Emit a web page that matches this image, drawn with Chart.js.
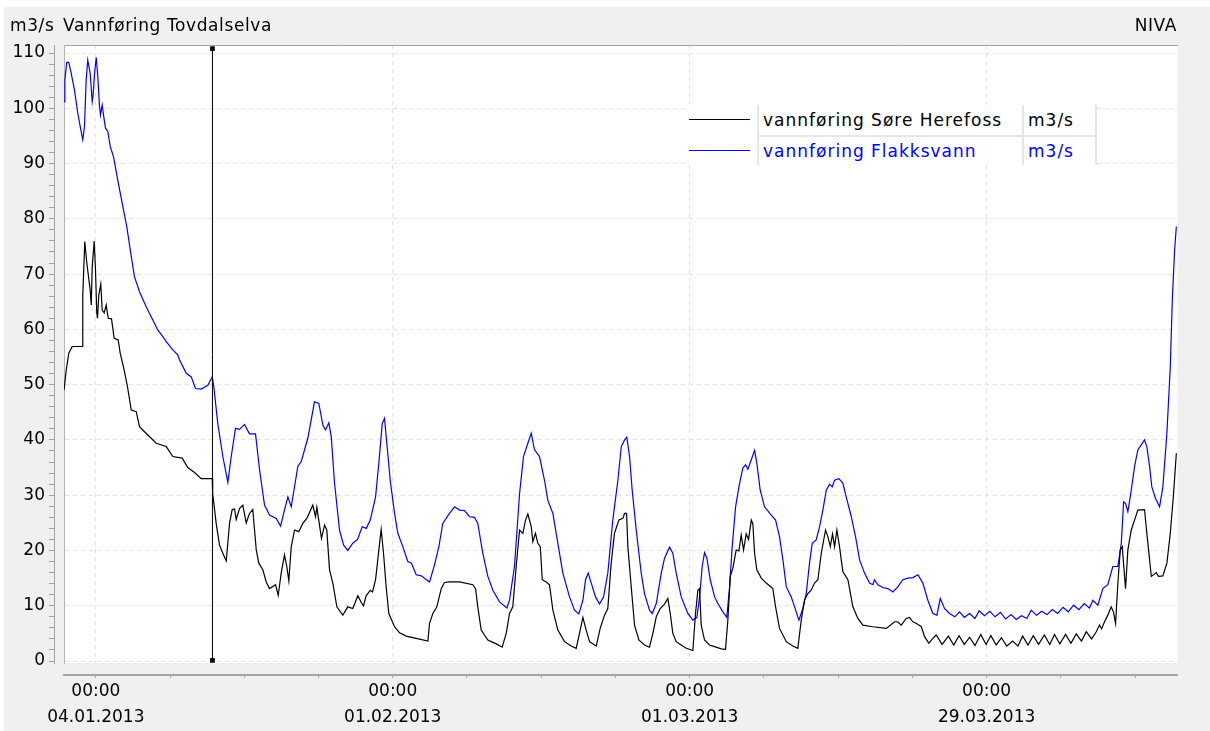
<!DOCTYPE html>
<html lang="no">
<head>
<meta charset="utf-8">
<title>Vannføring Tovdalselva</title>
<script src="https://cdn.jsdelivr.net/npm/chart.js@4/dist/chart.umd.min.js"></script>
<style>
  html, body { margin: 0; padding: 0; background: #ffffff; }
  #frame { position: relative; width: 1210px; height: 731px; overflow: hidden; }
  #panel { position: absolute; left: 4px; top: 7px; width: 1206px; height: 724px; background: #f0f0f0; }
  #chart { position: absolute; left: 0; top: 0; }
  .txt { position: absolute; font-family: "DejaVu Sans", sans-serif; font-size: 17px; line-height: 20px; white-space: nowrap; color: #000; }
  .head { letter-spacing: 0.6px; top: 15px; }
  #legend { position: absolute; left: 689px; top: 105px; width: 408px; height: 60px; background: #ffffff; }
  #legend .swatch { position: absolute; left: 0; width: 61px; height: 1px; }
  #legend .vsep { position: absolute; top: 0; width: 2px; height: 60px; background: #e6e6e6; }
  #legend .hsep { position: absolute; left: 68px; top: 30px; width: 340px; height: 2px; background: #e6e6e6; }
  #legend .txt { letter-spacing: 1px; }
</style>
</head>
<body>
<div id="frame">
  <div id="panel"></div>
  <canvas id="chart" width="1210" height="731"></canvas>
  <div class="txt head" style="left:10px">m3/s</div>
  <div class="txt head" style="left:63px">Vannføring Tovdalselva</div>
  <div class="txt head" style="right:33px">NIVA</div>
  <div id="legend"></div>
</div>
<script>
// Time axis: days since 01.01.2013 00:00
const START_UTC = Date.UTC(2013, 0, 1);
const DAY_MIN = 0;
const DAY_MAX = 105;

// Labelled date ticks (every 4 weeks) and weekly minor ticks
const majorTickDays = [3, 31, 59, 87];
const minorTickDays = [3, 10, 17, 24, 31, 38, 45, 52, 59, 66, 73, 80, 87, 94, 101];

// Value axis (m3/s)
const Y_MIN = -0.36;
const Y_MAX = 111.45;
const yGridValues = [0, 10, 20, 30, 40, 50, 60, 70, 80, 90, 100, 110];
const yMinorTicks = [];
for (let v = 0; v <= 110; v += 2) yMinorTicks.push(v);

// Series metadata
const seriesNames = ['vannføring Søre Herefoss', 'vannføring Flakksvann'];
const seriesUnits = ['m3/s', 'm3/s'];
const seriesColors = ['#000000', '#0000ff'];

// Cursor marker
const cursorDay = 14.0;
const cursorSpan = [0.1, 110.8];

// vannføring Søre Herefoss: [day, m3/s]
const soreHerefoss = [
  [0.00,49.0],[0.21,52.6],[0.45,55.7],[0.77,56.9],[1.72,56.9],[1.77,66.2],[1.96,75.9],[2.15,72.0],[2.47,67.1],[2.57,64.4],
  [2.66,71.3],[2.85,76.0],[2.97,70.7],[3.09,63.0],[3.16,62.0],[3.28,66.2],[3.47,68.2],[3.60,63.5],[3.79,63.0],[3.98,64.4],
  [4.17,62.0],[4.48,61.9],[4.73,58.4],[5.11,58.1],[5.30,55.7],[5.68,52.6],[5.99,49.6],[6.34,45.4],[6.81,45.1],[7.12,42.4],
  [7.69,41.3],[8.22,40.3],[8.69,39.4],[9.64,38.8],[10.26,37.0],[11.15,36.7],[11.67,35.0],[12.31,34.1],[12.94,33.0],[13.98,33.0],
  [14.02,30.3],[14.35,24.9],[14.66,21.0],[14.98,19.5],[15.30,18.1],[15.61,24.9],[15.86,27.4],[16.08,27.5],[16.24,25.6],[16.55,27.6],
  [16.86,28.2],[17.18,25.0],[17.49,26.7],[17.80,27.4],[18.13,20.1],[18.37,17.7],[18.75,16.5],[19.07,14.3],[19.38,13.1],[19.95,13.8],
  [20.20,11.9],[20.48,15.9],[20.79,19.2],[21.01,17.1],[21.20,14.5],[21.43,20.7],[21.74,23.7],[22.14,23.4],[22.52,24.9],[22.90,25.8],
  [23.46,28.2],[23.72,26.1],[23.84,27.8],[24.28,22.2],[24.57,24.6],[24.78,23.7],[25.04,16.5],[25.35,14.1],[25.73,9.8],[26.29,8.3],
  [26.76,9.8],[27.23,9.5],[27.71,11.8],[28.06,10.5],[28.24,10.0],[28.49,11.8],[28.88,12.8],[29.09,12.5],[29.38,14.7],[29.69,20.1],
  [29.91,23.8],[30.13,19.5],[30.38,13.4],[30.63,8.6],[31.17,6.2],[31.64,5.1],[32.27,4.5],[33.21,4.1],[34.31,3.6],[34.47,6.8],
  [34.78,8.6],[35.16,9.8],[35.57,13.1],[35.88,14.2],[36.35,14.3],[37.30,14.3],[38.55,13.8],[38.81,13.1],[39.02,9.8],[39.34,5.6],
  [39.97,3.8],[40.76,3.1],[41.32,2.5],[41.70,5.0],[42.01,8.6],[42.32,9.8],[42.64,17.1],[42.96,23.7],[43.27,23.1],[43.52,25.5],
  [43.74,26.6],[44.06,24.3],[44.21,21.6],[44.46,23.1],[44.68,21.3],[44.91,20.7],[45.10,14.7],[45.47,14.3],[45.78,13.8],[46.10,9.2],
  [46.57,5.6],[47.20,3.5],[47.83,2.7],[48.30,2.3],[48.61,5.0],[48.93,7.9],[49.24,5.6],[49.56,3.5],[50.19,2.7],[50.56,5.9],
  [50.97,8.3],[51.28,9.5],[51.60,17.7],[51.91,23.1],[52.32,25.5],[52.70,25.8],[52.86,26.7],[53.05,26.7],[53.17,20.7],[53.49,13.4],
  [53.80,6.5],[54.21,3.8],[54.74,2.9],[55.21,2.5],[55.53,5.0],[55.85,8.0],[56.22,9.5],[56.63,10.3],[56.94,11.3],[57.17,8.6],
  [57.41,5.0],[57.73,3.5],[58.20,2.9],[58.68,2.3],[59.30,1.9],[59.55,8.6],[59.77,12.8],[59.93,13.1],[60.09,6.5],[60.40,3.8],
  [60.87,2.9],[61.35,2.6],[61.98,2.2],[62.38,2.1],[62.60,7.4],[62.83,15.3],[63.07,16.8],[63.39,20.1],[63.64,19.9],[63.86,22.8],
  [64.08,20.1],[64.33,23.0],[64.55,22.0],[64.81,25.5],[64.96,24.8],[65.12,19.5],[65.33,16.5],[65.75,15.0],[66.22,14.1],[66.84,13.1],
  [67.10,9.8],[67.47,5.9],[68.11,3.5],[68.73,2.7],[69.20,2.3],[69.52,7.4],[69.83,11.0],[70.14,12.2],[70.46,12.8],[70.77,14.1],
  [71.09,14.7],[71.41,19.5],[71.81,23.7],[72.03,22.5],[72.26,20.7],[72.47,23.0],[72.66,20.7],[72.88,23.7],[73.13,20.7],[73.44,16.2],
  [73.92,14.7],[74.39,9.8],[74.86,7.7],[75.33,6.5],[76.27,6.2],[77.54,5.9],[78.32,7.1],[78.60,7.1],[78.95,6.5],[79.42,7.7],
  [79.73,7.9],[80.04,7.1],[80.39,6.8],[80.84,6.2],[81.15,4.4],[81.55,3.2],[81.93,4.1],[82.25,4.7],[82.80,3.0],[83.40,4.5],
  [83.90,2.9],[84.40,4.6],[84.90,3.0],[85.40,4.3],[85.90,2.8],[86.45,4.8],[86.95,3.0],[87.40,4.6],[87.90,2.9],[88.40,4.2],
  [88.90,2.7],[89.45,3.6],[89.95,2.7],[90.40,4.5],[90.90,2.9],[91.40,4.6],[91.90,3.0],[92.45,4.7],[92.95,3.0],[93.40,4.8],
  [93.90,3.1],[94.45,4.8],[94.95,3.2],[95.45,4.9],[95.95,3.6],[96.40,5.3],[96.90,4.0],[97.34,5.3],[97.65,6.5],[97.84,5.8],
  [98.12,7.1],[98.43,8.3],[98.75,9.8],[98.97,8.8],[99.16,6.8],[99.38,14.1],[99.60,20.1],[99.79,20.7],[100.10,13.1],[100.32,20.1],
  [100.64,23.7],[100.95,25.5],[101.26,27.3],[101.89,27.4],[102.11,23.1],[102.37,18.3],[102.53,15.3],[103.00,16.0],[103.22,15.3],[103.62,15.4],
  [104.00,17.7],[104.32,23.1],[104.63,30.3],[104.89,37.6]
];

// vannføring Flakksvann: [day, m3/s]
const flakksvann = [
  [0.00,101.2],[0.08,105.1],[0.26,108.3],[0.45,108.3],[0.68,106.3],[0.99,103.3],[1.30,99.1],[1.53,96.7],[1.77,94.3],[1.93,96.7],
  [2.09,105.1],[2.24,108.7],[2.47,106.3],[2.66,101.2],[2.75,102.5],[2.88,106.3],[3.04,109.2],[3.19,105.7],[3.35,100.3],[3.44,98.8],
  [3.60,100.6],[3.75,98.5],[3.91,96.4],[4.13,95.8],[4.36,93.1],[4.67,91.2],[5.07,87.0],[5.49,82.8],[5.92,78.6],[6.34,73.2],
  [6.65,69.5],[7.12,66.8],[7.75,64.1],[8.53,61.1],[8.84,59.9],[9.32,58.7],[9.64,57.8],[10.26,56.3],[10.73,55.4],[10.89,54.5],
  [11.52,52.1],[12.00,51.4],[12.40,49.3],[12.94,49.2],[13.56,49.9],[13.98,51.4],[14.13,49.6],[14.50,43.0],[14.98,37.0],[15.45,32.3],
  [15.77,37.0],[16.17,42.1],[16.55,41.9],[17.02,42.8],[17.49,41.1],[18.06,41.1],[18.44,34.6],[18.91,28.2],[19.38,26.4],[20.01,25.8],
  [20.42,24.4],[20.79,27.3],[21.11,29.7],[21.43,27.9],[22.05,35.2],[22.37,36.1],[22.99,40.3],[23.62,46.9],[24.03,46.6],[24.41,42.7],
  [24.66,41.8],[24.97,43.1],[25.20,40.6],[25.51,32.2],[25.98,23.7],[26.36,21.0],[26.76,20.0],[27.23,21.3],[27.68,22.0],[28.12,24.3],
  [28.50,24.0],[28.88,25.5],[29.38,29.7],[29.69,35.8],[30.01,43.0],[30.22,43.9],[30.44,39.4],[30.76,32.7],[31.17,26.7],[31.48,23.1],
  [31.95,20.7],[32.42,18.0],[32.77,17.7],[33.21,15.6],[33.69,15.4],[34.47,14.3],[34.94,17.4],[35.35,20.7],[35.72,24.9],[36.35,26.7],
  [36.83,27.9],[37.30,27.3],[37.77,27.2],[38.24,26.1],[38.71,26.0],[39.02,24.9],[39.49,19.5],[39.97,15.3],[40.44,12.8],[41.07,10.7],
  [41.76,9.6],[42.01,11.0],[42.48,17.1],[42.96,30.3],[43.33,37.0],[43.74,39.4],[44.06,41.2],[44.37,38.2],[44.84,37.0],[45.31,32.7],
  [45.62,29.1],[46.10,26.7],[46.57,21.3],[47.04,15.9],[47.67,11.6],[48.14,9.2],[48.55,8.5],[48.93,11.0],[49.18,14.7],[49.43,15.9],
  [49.72,14.1],[50.12,11.6],[50.50,10.3],[50.88,11.6],[51.28,15.9],[51.75,25.5],[52.23,32.7],[52.55,38.8],[52.86,40.0],[53.07,40.5],
  [53.33,37.0],[53.58,30.9],[53.96,23.7],[54.43,15.9],[54.74,12.2],[55.21,9.2],[55.47,8.6],[55.85,10.4],[56.32,15.9],[56.63,18.6],
  [57.10,20.6],[57.41,19.5],[57.73,15.9],[58.20,11.6],[58.52,10.1],[58.83,8.6],[59.30,7.4],[59.68,7.9],[59.93,11.6],[60.18,17.1],
  [60.40,19.6],[60.62,18.6],[60.94,14.7],[61.35,11.6],[61.66,10.4],[62.13,8.9],[62.50,7.9],[62.76,13.4],[63.01,20.7],[63.33,27.9],
  [63.64,31.5],[64.01,34.9],[64.27,35.5],[64.49,34.7],[64.81,36.4],[65.12,38.1],[65.33,35.8],[65.65,30.9],[66.06,27.9],[66.69,26.4],
  [67.10,25.5],[67.47,22.5],[67.79,18.3],[68.11,13.4],[68.58,11.6],[68.89,9.8],[69.30,7.4],[69.67,9.5],[69.99,12.2],[70.30,17.7],
  [70.56,21.3],[70.93,21.9],[71.25,24.3],[71.56,27.3],[71.88,30.9],[72.19,32.0],[72.44,31.5],[72.66,32.7],[73.07,33.0],[73.44,32.2],
  [73.76,29.7],[74.24,26.1],[74.64,22.5],[75.02,18.3],[75.49,15.9],[75.96,14.1],[76.27,13.8],[76.43,14.7],[76.74,13.8],[77.22,13.3],
  [77.69,13.1],[78.16,12.5],[78.63,13.4],[79.10,14.7],[79.57,15.0],[80.05,15.1],[80.52,15.6],[80.99,14.1],[81.46,11.0],[81.93,8.6],
  [82.31,8.3],[82.63,11.3],[83.03,9.5],[83.50,8.6],[84.00,8.0],[84.45,8.9],[84.90,7.9],[85.40,8.6],[85.90,7.7],[86.30,9.1],
  [86.80,8.2],[87.30,9.0],[87.80,8.0],[88.30,8.8],[88.80,7.6],[89.30,8.4],[89.80,7.5],[90.30,8.2],[90.80,7.7],[91.20,9.2],
  [91.70,8.3],[92.20,9.0],[92.70,8.4],[93.20,9.3],[93.70,8.6],[94.20,9.7],[94.70,8.9],[95.20,10.1],[95.70,9.3],[96.20,10.4],
  [96.70,9.6],[97.02,11.0],[97.49,10.1],[97.96,13.1],[98.43,13.8],[98.90,17.1],[99.38,17.1],[99.70,21.3],[99.92,28.8],[100.10,28.5],
  [100.32,27.0],[100.64,30.9],[100.95,35.2],[101.26,38.2],[101.58,39.1],[101.89,40.0],[102.11,38.8],[102.37,35.2],[102.58,31.5],[102.93,29.4],
  [103.31,27.9],[103.62,31.5],[104.00,41.2],[104.32,53.2],[104.51,65.3],[104.73,74.4],[104.89,78.6]
];

const AXIS_COLOR = '#a4a4a4';
const GRID_COLOR = '#e2e2e2';
const FONT = { family: '"DejaVu Sans", sans-serif', size: 17 };

function pad2(n) { return String(n).padStart(2, '0'); }
function dayToLabel(day) {
  const d = new Date(START_UTC + day * 86400000);
  return [
    pad2(d.getUTCHours()) + ':' + pad2(d.getUTCMinutes()),
    pad2(d.getUTCDate()) + '.' + pad2(d.getUTCMonth() + 1) + '.' + d.getUTCFullYear()
  ];
}
const toPoints = rows => rows.map(([x, y]) => ({ x, y }));

// White plotting area behind the grid
const plotBackground = {
  id: 'plotBackground',
  beforeDraw(chart) {
    const { ctx, chartArea: a } = chart;
    ctx.save();
    ctx.fillStyle = '#ffffff';
    ctx.fillRect(a.left, a.top, a.right - a.left, a.bottom - a.top);
    ctx.restore();
  }
};

new Chart(document.getElementById('chart'), {
  type: 'line',
  data: {
    datasets: [
      {
        label: 'markør',
        data: [{ x: cursorDay, y: cursorSpan[0] }, { x: cursorDay, y: cursorSpan[1] }],
        borderColor: '#000000',
        borderWidth: 1,
        pointStyle: 'rect',
        pointRadius: 3.3,
        pointBorderWidth: 0,
        pointBackgroundColor: '#000000',
        xAxisID: 'x', yAxisID: 'y'
      },
      {
        label: seriesNames[0],
        data: toPoints(soreHerefoss),
        borderColor: seriesColors[0],
        borderWidth: 1.2,
        pointRadius: 0,
        tension: 0,
        xAxisID: 'x', yAxisID: 'y'
      },
      {
        label: seriesNames[1],
        data: toPoints(flakksvann),
        borderColor: seriesColors[1],
        borderWidth: 1.2,
        pointRadius: 0,
        tension: 0,
        xAxisID: 'x', yAxisID: 'y'
      }
    ]
  },
  options: {
    responsive: false,
    animation: false,
    devicePixelRatio: 1,
    layout: { padding: { top: 45, right: 32.5, bottom: 0, left: 0 } },
    plugins: { legend: { display: false }, tooltip: { enabled: false } },
    events: [],
    scales: {
      x: {
        type: 'linear', position: 'bottom', weight: 0, min: DAY_MIN, max: DAY_MAX,
        afterBuildTicks: s => { s.ticks = majorTickDays.map(v => ({ value: v })); },
        afterFit: s => { s.height = 12; },
        ticks: { display: false },
        grid: { color: GRID_COLOR, lineWidth: 1, drawTicks: false },
        border: { display: false, dash: [4, 4] }
      },
      xAxis: {
        type: 'linear', position: 'bottom', weight: 1, min: DAY_MIN, max: DAY_MAX,
        afterBuildTicks: s => { s.ticks = minorTickDays.map(v => ({ value: v })); },
        afterFit: s => { s.height = 56; },
        ticks: {
          autoSkip: false, maxRotation: 0, minRotation: 0, padding: 1, color: '#000000',
          font: { ...FONT, lineHeight: 26 / 17 },
          callback: v => majorTickDays.includes(v) ? dayToLabel(v) : ''
        },
        grid: { drawOnChartArea: false, drawTicks: true, tickLength: 3, tickColor: AXIS_COLOR },
        border: { display: true, color: AXIS_COLOR, width: 2 }
      },
      xTop: {
        type: 'linear', position: 'top', min: DAY_MIN, max: DAY_MAX,
        afterFit: s => { s.height = 0; },
        ticks: { display: false },
        grid: { display: false, drawTicks: false },
        border: { display: true, color: AXIS_COLOR, width: 1 }
      },
      y: {
        type: 'linear', position: 'left', weight: 0, min: Y_MIN, max: Y_MAX,
        afterBuildTicks: s => { s.ticks = yGridValues.map(v => ({ value: v })); },
        afterFit: s => { s.width = 10; },
        ticks: { display: false },
        grid: { color: GRID_COLOR, lineWidth: 1, drawTicks: false },
        border: { display: true, color: '#b4b4b4', width: 1, dash: [4, 4] }
      },
      yAxis: {
        type: 'linear', position: 'left', weight: 1, min: Y_MIN, max: Y_MAX,
        afterBuildTicks: s => { s.ticks = yMinorTicks.map(v => ({ value: v })); },
        afterFit: s => { s.width = 54; },
        ticks: {
          autoSkip: false, padding: 4, color: '#000000', font: FONT,
          callback: v => (v % 10 === 0 ? String(v) : '')
        },
        grid: { drawOnChartArea: false, drawTicks: true, tickLength: 5, tickColor: AXIS_COLOR },
        border: { display: true, color: AXIS_COLOR, width: 1 }
      }
    }
  },
  plugins: [plotBackground]
});

// Legend table: swatch | name | unit
const legend = document.getElementById('legend');
const legendCols = [68, 333, 406];
legendCols.forEach(x => {
  const s = document.createElement('div');
  s.className = 'vsep';
  s.style.left = x + 'px';
  legend.appendChild(s);
});
const hsep = document.createElement('div');
hsep.className = 'hsep';
legend.appendChild(hsep);
seriesNames.forEach((name, i) => {
  const rowTop = i * 31;
  const sw = document.createElement('div');
  sw.className = 'swatch';
  sw.style.top = (rowTop + 14) + 'px';
  sw.style.background = seriesColors[i];
  legend.appendChild(sw);
  const label = document.createElement('div');
  label.className = 'txt';
  label.style.left = '74px';
  label.style.top = (rowTop + 5) + 'px';
  label.style.color = seriesColors[i];
  label.textContent = name;
  legend.appendChild(label);
  const unit = document.createElement('div');
  unit.className = 'txt';
  unit.style.left = '339px';
  unit.style.top = (rowTop + 5) + 'px';
  unit.style.color = seriesColors[i];
  unit.textContent = seriesUnits[i];
  legend.appendChild(unit);
});
</script>
</body>
</html>
